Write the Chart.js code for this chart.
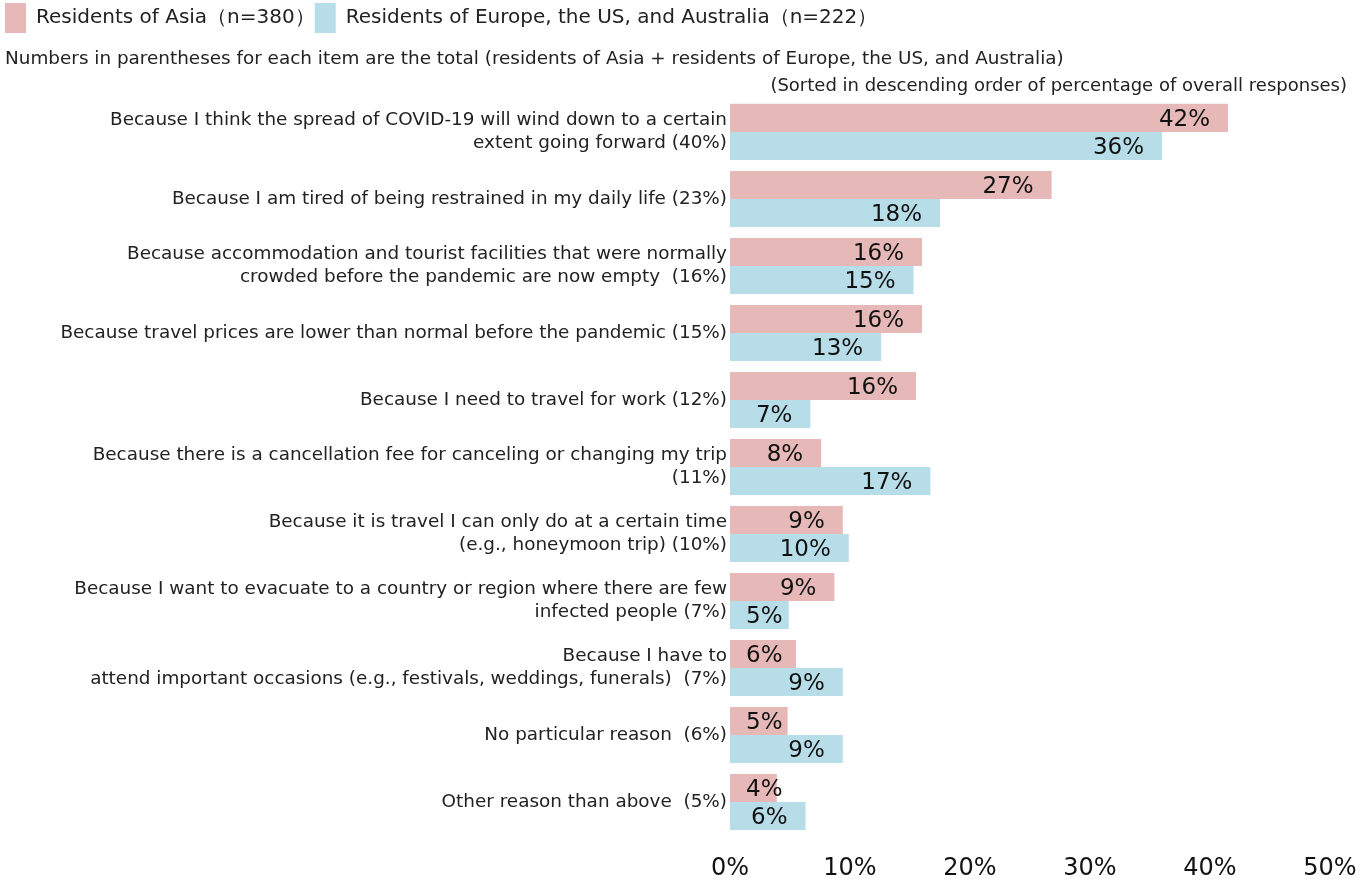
<!DOCTYPE html>
<html>
<head>
<meta charset="utf-8">
<script src="https://cdn.jsdelivr.net/npm/chart.js@4.4.0/dist/chart.umd.min.js"></script>
<style>
  html, body { margin: 0; padding: 0; background: #fff; }
  #wrap { width: 1366px; height: 881px; }
</style>
</head>
<body>
<div id="wrap"><canvas id="myChart"></canvas></div>
<script>
const reasons = [
    ['Because I think the spread of COVID-19 will wind down to a certain', 'extent going forward (40%)'],
    'Because I am tired of being restrained in my daily life (23%)',
    ['Because accommodation and tourist facilities that were normally', 'crowded before the pandemic are now empty  (16%)'],
    'Because travel prices are lower than normal before the pandemic (15%)',
    'Because I need to travel for work (12%)',
    ['Because there is a cancellation fee for canceling or changing my trip', '(11%)'],
    ['Because it is travel I can only do at a certain time', '(e.g., honeymoon trip) (10%)'],
    ['Because I want to evacuate to a country or region where there are few', 'infected people (7%)'],
    ['Because I have to', 'attend important occasions (e.g., festivals, weddings, funerals)  (7%)'],
    'No particular reason  (6%)',
    'Other reason than above  (5%)'
];

const asiaValues = [41.5, 26.8, 16.0, 16.0, 15.5, 7.6, 9.4, 8.7, 5.5, 4.8, 3.9];
const westValues = [36.0, 17.5, 15.3, 12.6, 6.7, 16.7, 9.9, 4.9, 9.4, 9.4, 6.3];

const asiaLabels = ['42%', '27%', '16%', '16%', '16%', '8%', '9%', '9%', '6%', '5%', '4%'];
const westLabels = ['36%', '18%', '15%', '13%', '7%', '17%', '10%', '5%', '9%', '9%', '6%'];

const seriesNames = ['Residents of Asia（n=380）', 'Residents of Europe, the US, and Australia（n=222）'];
const xTicks = [0, 10, 20, 30, 40, 50];

const titleText = 'Numbers in parentheses for each item are the total (residents of Asia + residents of Europe, the US, and Australia)';
const subtitleText = '(Sorted in descending order of percentage of overall responses)';

const pink = '#e6b8b7';
const blue = '#b7dee8';
const fontFam = "'DejaVu Sans', Verdana, sans-serif";

// value labels sit inside the bar end, pushed right when the bar is too short
const barLabels = {
    id: 'barLabels',
    afterDatasetsDraw(chart) {
        const ctx = chart.ctx;
        const base = chart.scales.x.getPixelForValue(0);
        const texts = [asiaLabels, westLabels];
        ctx.save();
        ctx.font = '23px ' + fontFam;
        ctx.fillStyle = '#111';
        ctx.textBaseline = 'middle';
        ctx.textAlign = 'left';
        chart.data.datasets.forEach((ds, di) => {
            const meta = chart.getDatasetMeta(di);
            meta.data.forEach((bar, i) => {
                const t = texts[di][i];
                const w = ctx.measureText(t).width;
                const left = Math.max(bar.x - 18 - w, base + 16);
                ctx.fillText(t, left, bar.y + 2);
            });
        });
        ctx.restore();
    }
};

const ctx = document.getElementById('myChart').getContext('2d');

new Chart(ctx, {
    type: 'bar',
    data: {
        labels: reasons,
        datasets: [{
            label: seriesNames[0],
            data: asiaValues,
            backgroundColor: pink,
            borderWidth: 0
        }, {
            label: seriesNames[1],
            data: westValues,
            backgroundColor: blue,
            borderWidth: 0
        }]
    },
    options: {
        indexAxis: 'y',
        animation: false,
        responsive: true,
        maintainAspectRatio: false,
        datasets: {
            bar: {
                categoryPercentage: 0.836,
                barPercentage: 1.0
            }
        },
        layout: {
            padding: { left: 5, right: 19, top: 3, bottom: 0 }
        },
        scales: {
            x: {
                min: 0,
                max: 50,
                afterBuildTicks: (scale) => {
                    scale.ticks = xTicks.map(v => ({ value: v }));
                },
                afterFit: (scale) => {
                    scale.paddingRight = 36;
                    scale.height = 45.5;
                },
                grid: { display: false, drawTicks: false },
                border: { display: false },
                ticks: {
                    padding: 21,
                    maxRotation: 0,
                    color: '#111',
                    font: { family: fontFam, size: 24, lineHeight: 1.0 },
                    callback: (v) => v + '%'
                }
            },
            y: {
                afterFit: (scale) => {
                    scale.width = 725;
                },
                grid: { display: false, drawTicks: false },
                border: { display: false },
                ticks: {
                    padding: 3,
                    color: '#222',
                    font: { family: fontFam, size: 18.4, lineHeight: 1.25 }
                }
            }
        },
        plugins: {
            legend: {
                position: 'top',
                align: 'start',
                weight: 3000,
                labels: {
                    boxWidth: 21,
                    boxHeight: 30,
                    padding: 0,
                    color: '#222',
                    font: { family: fontFam, size: 20 }
                }
            },
            title: {
                display: true,
                text: titleText,
                align: 'start',
                color: '#222',
                font: { family: fontFam, size: 18.4, weight: 'normal', lineHeight: 1.2 },
                padding: { top: 5.6, bottom: 2.2 }
            },
            subtitle: {
                display: true,
                text: subtitleText,
                align: 'end',
                color: '#222',
                font: { family: fontFam, size: 18, weight: 'normal', lineHeight: 1.2 },
                padding: { top: 2.7, bottom: 1.2 }
            },
            tooltip: { enabled: false }
        }
    },
    plugins: [barLabels]
});
</script>
</body>
</html>
